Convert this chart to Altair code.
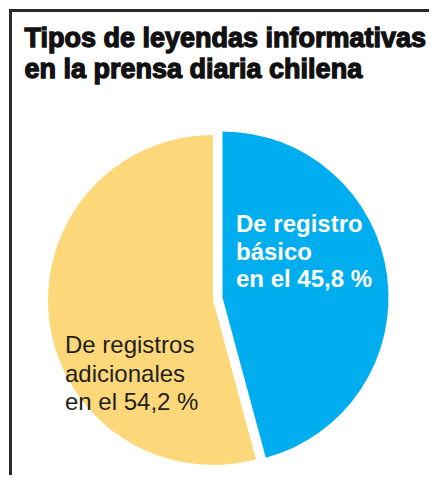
import altair as alt
import pandas as pd

# ---- data ----
title_lines = ["Tipos de leyendas informativas", "en la prensa diaria chilena"]
categories = ["De registro\nbásico", "De registros\nadicionales"]
values = [45.8, 54.2]
keys = ["basico", "adicionales"]
order = [0, 1]


def fmt(v):
    return f"{v:.1f}".replace(".", ",")


labels = [f"{c}\nen el {fmt(v)} %" for c, v in zip(categories, values)]

df = pd.DataFrame({"key": keys, "value": values, "label": labels, "order": order})
title_df = pd.DataFrame({"t": ["\n".join(title_lines)]})
frame_df = pd.DataFrame({"a": [0]})

FONT = "Liberation Sans"
BLUE = "#00AEEF"
YELLOW = "#FDD87A"

base = alt.Chart(df).transform_window(
    end="sum(value)", sort=[alt.SortField("order")], frame=[None, 0]
).transform_calculate(start="datum.end - datum.value")

theta_scale = alt.Scale(domain=[0, 100], range=[0, 6.283185307])

yellow = base.transform_filter("datum.key == 'adicionales'").mark_arc(
    radius=165, color=YELLOW
).encode(
    theta=alt.Theta("start:Q", scale=theta_scale, stack=None),
    theta2="end:Q",
    x=alt.value(205),
    y=alt.value(292),
)

blue = base.transform_filter("datum.key == 'basico'").mark_arc(
    radius=166, color=BLUE
).encode(
    theta=alt.Theta("start:Q", scale=theta_scale, stack=None),
    theta2="end:Q",
    x=alt.value(214.5),
    y=alt.value(289.5),
)

blue_text = base.transform_filter("datum.key == 'basico'").mark_text(
    align="left", baseline="alphabetic", lineBreak="\n", lineHeight=27.5,
    font=FONT, fontSize=24, fontWeight="bold", color="white"
).encode(text="label:N", x=alt.value(228), y=alt.value(224))

yellow_text = base.transform_filter("datum.key == 'adicionales'").mark_text(
    align="left", baseline="alphabetic", lineBreak="\n", lineHeight=28.5,
    font=FONT, fontSize=24, fontWeight="normal", color="#231F20"
).encode(text="label:N", x=alt.value(57), y=alt.value(345))

title = alt.Chart(title_df).mark_text(
    align="left", baseline="alphabetic", lineBreak="\n", lineHeight=31,
    font=FONT, fontSize=27, fontWeight="bold", color="#111111",
    stroke="#111111", strokeWidth=1.3
).encode(text="t:N", x=alt.value(16.5), y=alt.value(39))

frame_top = alt.Chart(frame_df).mark_rule(color="#2a2a2a", strokeWidth=3).encode(
    x=alt.value(1), x2=alt.value(421), y=alt.value(2.5)
)
frame_left = alt.Chart(frame_df).mark_rule(color="#2a2a2a", strokeWidth=3).encode(
    x=alt.value(2.5), y=alt.value(1), y2=alt.value(467)
)

chart = alt.layer(
    yellow, blue, blue_text, yellow_text, title, frame_top, frame_left
).properties(
    width=421, height=467, padding=0, autosize=alt.AutoSizeParams(type="none"),
    background="white"
).configure_view(strokeWidth=0)

chart.save("out.html", embed_options={"renderer": "svg", "actions": False})
